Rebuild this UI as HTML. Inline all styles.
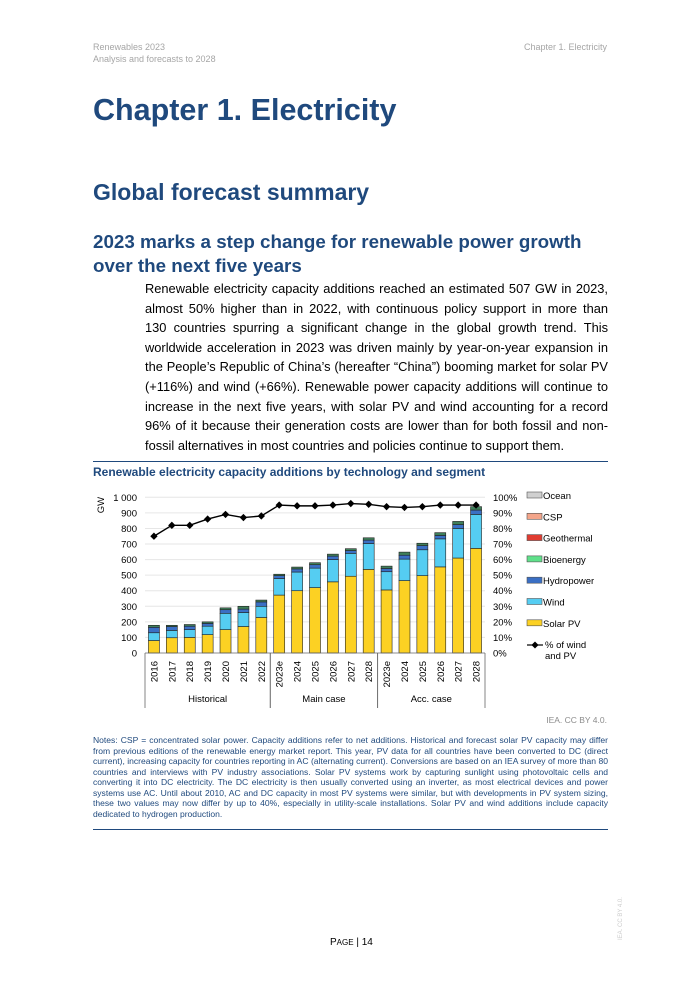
<!DOCTYPE html>
<html><head><meta charset="utf-8"><style>
body{margin:0;background:#fff;}
#page{position:relative;width:700px;height:990px;font-family:"Liberation Sans",sans-serif;overflow:hidden;}
.abs{position:absolute;margin:0;}
.hdr{font-size:9px;color:#a6a6a6;line-height:12px;}
.blue{color:#1f497d;font-weight:bold;}
#body{left:145px;top:279px;width:463px;font-size:12.85px;line-height:19.6px;text-align:justify;color:#000;}
#notes{left:93px;top:735px;width:515px;font-size:8.55px;line-height:10.5px;text-align:justify;color:#1f497d;}
</style></head><body>
<div id="page">
<div class="abs hdr" style="left:93px;top:41px">Renewables 2023<br>Analysis and forecasts to 2028</div>
<div class="abs hdr" style="right:93px;top:41px">Chapter 1. Electricity</div>
<h1 class="abs blue" style="left:93px;top:92px;font-size:30.5px;line-height:36px">Chapter 1. Electricity</h1>
<h2 class="abs blue" style="left:93px;top:178px;font-size:23px;line-height:28px">Global forecast summary</h2>
<h3 class="abs blue" style="left:93px;top:230px;font-size:18.8px;line-height:24px">2023 marks a step change for renewable power growth<br>over the next five years</h3>
<p class="abs" id="body">Renewable electricity capacity additions reached an estimated 507 GW in 2023, almost 50% higher than in 2022, with continuous policy support in more than 130&nbsp;countries spurring a significant change in the global growth trend. This worldwide acceleration in 2023 was driven mainly by year-on-year expansion in the People’s Republic of China’s (hereafter “China”) booming market for solar PV (+116%) and wind (+66%). Renewable power capacity additions will continue to increase in the next five years, with solar PV and wind accounting for a record 96% of it because their generation costs are lower than for both fossil and non-fossil alternatives in most countries and policies continue to support them.</p>
<div class="abs" style="left:93px;top:461px;width:515px;height:1px;background:#1f497d"></div>
<div class="abs blue" style="left:93px;top:465px;font-size:12px">Renewable electricity capacity additions by technology and segment</div>
<svg class="abs" id="chart" style="left:0;top:480px" width="700" height="230"></svg>
<div class="abs" style="right:93px;top:715px;font-size:8.5px;color:#8c8c8c">IEA. CC BY 4.0.</div>
<p class="abs" id="notes">Notes: CSP = concentrated solar power. Capacity additions refer to net additions. Historical and forecast solar PV capacity may differ from previous editions of the renewable energy market report. This year, PV data for all countries have been converted to DC (direct current), increasing capacity for countries reporting in AC (alternating current). Conversions are based on an IEA survey of more than 80 countries and interviews with PV industry associations. Solar PV systems work by capturing sunlight using photovoltaic cells and converting it into DC electricity. The DC electricity is then usually converted using an inverter, as most electrical devices and power systems use AC. Until about 2010, AC and DC capacity in most PV systems were similar, but with developments in PV system sizing, these two values may now differ by up to 40%, especially in utility-scale installations. Solar PV and wind additions include capacity dedicated to hydrogen production.</p>
<div class="abs" style="left:93px;top:829px;width:515px;height:1px;background:#1f497d"></div>
<div class="abs" style="left:330px;top:937px;font-size:10px;color:#000">P<span style="font-size:8px">AGE</span> | 14</div>
<div class="abs" style="left:618px;top:940px;font-size:6px;color:#ccc;transform:rotate(-90deg);transform-origin:left top">IEA. CC BY 4.0.</div>
</div>
<script>
const categories=["2016","2017","2018","2019","2020","2021","2022","2023e","2024","2025","2026","2027","2028","2023e","2024","2025","2026","2027","2028"];
const solarPV=[80,98,100,118,150,170,228,372,400,420,457,493,537,405,465,497,553,610,672];
const wind=[50,47,50,54,105,90,72,106,120,125,143,147,166,117,138,166,180,190,218];
const hydro=[35,25,22,18,23,22,28,19,20,22,22,18,22,21,25,27,22,25,28];
const bioenergy=[13,8,11,10,12,18,12,9,12,13,13,12,15,15,20,15,18,20,22];
const pctWindPV=[75,82,82,86,89,87,88,95,94.5,94.5,95,96,95.5,94,93.5,94,95,95,95];
const leftTicks=[0,100,200,300,400,500,600,700,800,900,1000];
const rightTicks=[0,10,20,30,40,50,60,70,80,90,100];
const groups=[["Historical",0,7],["Main case",7,13],["Acc. case",13,19]];
const legendItems=[["Ocean","#d0d0d0"],["CSP","#f4a58a"],["Geothermal","#e03c31"],["Bioenergy","#5fe08a"],["Hydropower","#3a6fc4"],["Wind","#55cdf2"],["Solar PV","#fcd123"]];

const NS="http://www.w3.org/2000/svg";
const svg=document.getElementById('chart');
const X0=145,X1=485,Y0=173,YT=17.3;
const slot=(X1-X0)/categories.length;
const xC=i=>X0+slot*(i+0.5);
const yG=v=>Y0-(v/1000)*(Y0-YT);
const yP=v=>Y0-(v/100)*(Y0-YT);
function mk(t,a,txt){const e=document.createElementNS(NS,t);for(const k in a)e.setAttribute(k,a[k]);if(txt!==undefined)e.textContent=txt;svg.appendChild(e);return e;}
leftTicks.forEach(v=>{
 if(v>0){const g=mk('line',{x1:X0,x2:X1,y1:yG(v),y2:yG(v),stroke:'#e6e6e6','stroke-width':1});
 
 }
 const t=mk('text',{x:137,y:yG(v)+3.5,'text-anchor':'end','font-size':9.5,'font-family':'Liberation Sans'},v===1000?'1 000':String(v));
 
 
});
rightTicks.forEach(v=>{
 const t=mk('text',{x:493,y:yP(v)+3.5,'font-size':9.5,'font-family':'Liberation Sans'},v+'%');
 
 
});
const gw=mk('text',{x:104,y:yG(950),'font-size':9.5,'font-family':'Liberation Sans',transform:`rotate(-90 104 ${yG(950)})`,'text-anchor':'middle'},'GW');


const series=[[solarPV,"#fcd123","solar-pv"],[wind,"#55cdf2","wind"],[hydro,"#3a6fc4","hydropower"],[bioenergy,"#3f7f5a","bioenergy"]];
categories.forEach((c,i)=>{
 let base=0;const w=11;
 series.forEach(([arr,col,nm])=>{
  const v=arr[i];
  const r=mk('rect',{x:xC(i)-w/2,y:yG(base+v),width:w,height:yG(base)-yG(base+v),fill:col,stroke:'#222','stroke-width':0.6});
  
  
  base+=v;
 });
 const t=mk('text',{x:xC(i)+3.5,y:Y0+8,'font-size':9.5,'font-family':'Liberation Sans',transform:`rotate(-90 ${xC(i)+3.5} ${Y0+8})`,'text-anchor':'end'},c);
 
 
});
mk('line',{x1:X0,x2:X1,y1:Y0,y2:Y0,stroke:'#666','stroke-width':0.8});
groups.forEach(([n,a,b])=>{
 [a,b].forEach(k=>{const l=mk('line',{x1:X0+slot*k,x2:X0+slot*k,y1:Y0,y2:228,stroke:'#666','stroke-width':0.8});
 
 });
 const t=mk('text',{x:X0+slot*(a+b)/2,y:222,'text-anchor':'middle','font-size':9.5,'font-family':'Liberation Sans'},n);
 
 
});
const pts=pctWindPV.map((v,i)=>xC(i)+','+yP(v)).join(' ');
const pl=mk('polyline',{points:pts,fill:'none',stroke:'#000','stroke-width':1.4});


pctWindPV.forEach((v,i)=>{
 const d=mk('rect',{x:xC(i)-2.6,y:yP(v)-2.6,width:5.2,height:5.2,fill:'#000',transform:`rotate(45 ${xC(i)} ${yP(v)})`});
 
 
});
legendItems.forEach(([n,col],k)=>{
 const y=16+k*21.3;
 const r=mk('rect',{x:527,y:y-4,width:15,height:6,fill:col,stroke:'#555','stroke-width':0.6});
 
 
 const t=mk('text',{x:543,y:y+3,'font-size':9.5,'font-family':'Liberation Sans'},n);
 
 
});
const ly=165;
mk('line',{x1:527,x2:543,y1:ly,y2:ly,stroke:'#000','stroke-width':1.2});
mk('rect',{x:532.5,y:ly-2.5,width:5,height:5,fill:'#000',transform:`rotate(45 535 ${ly})`});
const lt=mk('text',{x:545,y:ly+3,'font-size':9.5,'font-family':'Liberation Sans'},'% of wind');


const lt2=mk('text',{x:545,y:ly+14,'font-size':9.5,'font-family':'Liberation Sans'},'and PV');


</script>
</body></html>
